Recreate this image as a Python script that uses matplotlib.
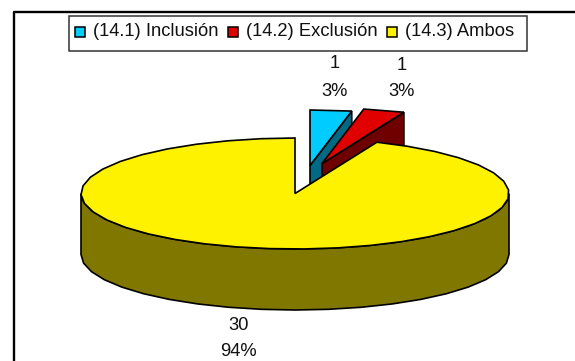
import numpy as np
import matplotlib
matplotlib.use('Agg')
import matplotlib.pyplot as plt
from matplotlib.patches import Polygon, Rectangle

labels = ['(14.1) Inclusión', '(14.2) Exclusión', '(14.3) Ambos']
values = [1, 1, 30]
percents = ['3%', '3%', '94%']
top_colors = ['#00CCFF', '#E00000', '#FFF200']
side_colors = ['#006A85', '#6E0000', '#807700']

W, H = 575, 361
cx, cy = 295, 193.5
rx, ry = 214, 55.5
depth = 61
offsets = [(15, -28), (27, -30), (0, 0)]

plt.rcParams['font.family'] = ['Liberation Sans', 'DejaVu Sans']

fig = plt.figure(figsize=(W / 100, H / 100), dpi=100)
ax = fig.add_axes([0, 0, 1, 1])
ax.set_xlim(0, W)
ax.set_ylim(H, 0)
ax.axis('off')

# chart frame, cut off at the right and at the bottom
ax.plot([13.5, 13.5, W + 2], [H + 2, 11.5, 11.5], color='black', lw=1.7, zorder=1)


def rim(a0, a1, dx, dy):
    # angles clockwise from 12 o'clock, coarse steps like the old chart renderer
    n = max(2, int((a1 - a0) / 9) + 1)
    t = np.radians(np.linspace(a0, a1, n))
    return np.column_stack([cx + dx + rx * np.sin(t), cy + dy - ry * np.cos(t)])


angles = np.cumsum([0] + values) / sum(values) * 360

for i, v in enumerate(values):
    dx, dy = offsets[i]
    a0, a1 = angles[i], angles[i + 1]
    apex = np.array([cx + dx, cy + dy])
    arc = rim(a0, a1, dx, dy)
    down = np.array([0, depth])
    z = 3 + i * 2
    if i < 2:
        # cut face that shows behind the small exploded slices
        face = [apex, arc[-1], arc[-1] + down, apex + down]
        ax.add_patch(Polygon(face, closed=True, fc=side_colors[i], ec='black', lw=1.2, zorder=z))
    else:
        # outer wall, only the part facing the viewer
        front = rim(90, 270, dx, dy)
        wall = np.vstack([front, (front + down)[::-1]])
        ax.add_patch(Polygon(wall, closed=True, fc=side_colors[i], ec='black', lw=1.2, zorder=z))
    ax.add_patch(Polygon(np.vstack([apex, arc]), closed=True, fc=top_colors[i], ec='black', lw=1.2, zorder=z + 1))

# data labels
label_pos = [(334.5, 64, 91), (401.5, 66, 92), (238.5, 326, 352)]
for v, p, (x, y1, y2) in zip(values, percents, label_pos):
    ax.text(x, y1, str(v), ha='center', va='center', fontsize=13.2, color='#111111', zorder=10)
    ax.text(x, y2, p, ha='center', va='center', fontsize=13.2, color='#111111', zorder=10)

# legend box
ax.add_patch(Rectangle((68.5, 15.5), 458, 35.5, fc='white', ec='#333333', lw=1.1, zorder=8))
entries = [(75, 93), (228, 246), (387, 405)]
for (sx, tx), lab, col in zip(entries, labels, top_colors):
    ax.add_patch(Rectangle((sx, 27), 10, 10, fc=col, ec='black', lw=1.1, zorder=9))
    ax.text(tx, 32, lab, ha='left', va='center', fontsize=13.2, color='#111111', zorder=9)

fig.savefig('out.png', dpi=100, facecolor='white')
